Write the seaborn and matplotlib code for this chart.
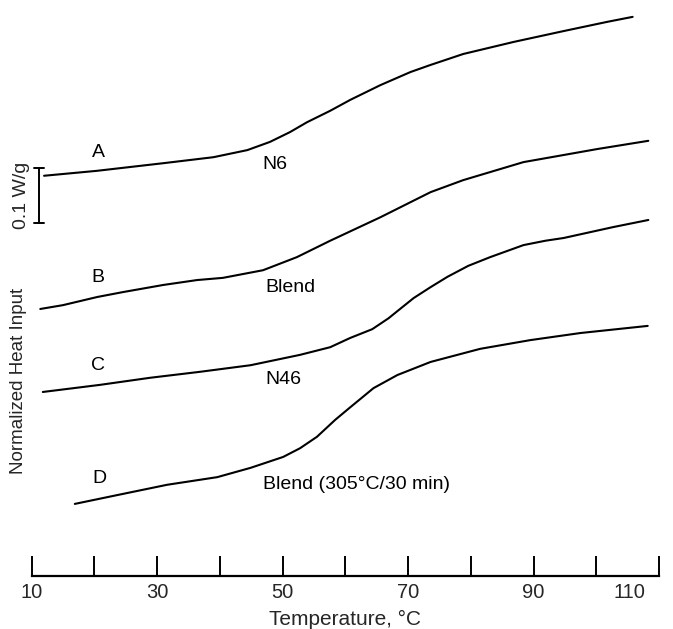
import numpy as np
import pandas as pd
import matplotlib
matplotlib.use("Agg")
import matplotlib.pyplot as plt
import matplotlib.transforms as mtransforms
import seaborn as sns

# ---- data (temperature in degC, normalized heat input in W/g, arbitrary offset) ----
temp_A = [12.0, 20.4, 31.0, 39.0, 44.4, 48.0, 51.2, 53.9, 57.6, 60.8, 65.6, 70.4, 73.6, 78.8, 86.8, 94.8, 101.8, 105.8]
heat_A = [0.777, 0.786, 0.800, 0.811, 0.824, 0.839, 0.857, 0.875, 0.896, 0.916, 0.943, 0.967, 0.980, 1.000, 1.022, 1.042, 1.059, 1.068]

temp_B = [11.4, 15.0, 20.5, 24.6, 31.0, 36.4, 40.5, 46.9, 52.3, 57.6, 65.6, 73.6, 78.8, 88.4, 94.8, 100.2, 108.3]
heat_B = [0.533, 0.540, 0.555, 0.564, 0.577, 0.586, 0.590, 0.604, 0.628, 0.658, 0.701, 0.747, 0.769, 0.802, 0.815, 0.826, 0.841]

temp_C = [11.8, 20.9, 28.9, 36.9, 44.9, 52.8, 57.6, 60.8, 64.3, 66.9, 68.3, 70.9, 73.6, 76.3, 79.6, 83.1, 88.4, 91.9, 94.8, 102.7, 108.3]
heat_C = [0.381, 0.394, 0.407, 0.418, 0.430, 0.449, 0.463, 0.480, 0.496, 0.516, 0.529, 0.553, 0.573, 0.592, 0.612, 0.628, 0.650, 0.658, 0.663, 0.683, 0.696]

temp_D = [16.9, 23.6, 31.6, 39.6, 44.9, 50.1, 52.8, 55.5, 58.4, 60.8, 64.5, 68.3, 73.6, 81.5, 89.5, 97.5, 108.2]
heat_D = [0.176, 0.192, 0.211, 0.225, 0.242, 0.262, 0.278, 0.299, 0.330, 0.353, 0.388, 0.412, 0.436, 0.460, 0.476, 0.489, 0.502]

curve_letters = ["A", "B", "C", "D"]
curve_names = ["N6", "Blend", "N46", "Blend (305°C/30 min)"]

x_ticks = [10, 20, 30, 40, 50, 60, 70, 80, 90, 100, 110]
x_tick_labels = ["10", "", "30", "", "50", "", "70", "", "90", "", "110"]

scale_bar_label = "0.1 W/g"
scale_bar_size = 0.1
x_label = "Temperature, °C"
y_label = "Normalized Heat Input"

# ---- build long-form table ----
frames = []
for letter, t, h in zip(curve_letters, [temp_A, temp_B, temp_C, temp_D],
                        [heat_A, heat_B, heat_C, heat_D]):
    frames.append(pd.DataFrame({"temp": t, "heat": h, "curve": letter}))
df = pd.concat(frames, ignore_index=True)

sns.set_style("white")
plt.rcParams["font.family"] = ["Liberation Sans", "DejaVu Sans"]

W, H = 673, 629
fig = plt.figure(figsize=(W / 100, H / 100), dpi=100)
axis_px = 576
left_px, right_px = 31.5, 659
ax = fig.add_axes([left_px / W, (H - axis_px) / H, (right_px - left_px) / W, axis_px / H])

sns.lineplot(data=df, x="temp", y="heat", hue="curve", units="curve", estimator=None,
             sort=False, palette=["black"] * 4, legend=False, linewidth=1.5, ax=ax)

ax.set_xlim(10, 110)
ax.set_ylim((600 - axis_px) / 546, 600 / 546)

for s in ["top", "left", "right"]:
    ax.spines[s].set_visible(False)
ax.spines["bottom"].set_color("black")
ax.spines["bottom"].set_linewidth(1.6)

ax.set_yticks([])
ax.set_xticks(x_ticks)
ax.set_xticklabels(x_tick_labels, fontsize=14.5)
ax.tick_params(axis="x", direction="in", length=14.5, width=1.4, color="black", pad=5,
               bottom=True)
last = ax.get_xticklabels()[-1]
last.set_horizontalalignment("right")
last.set_transform(last.get_transform() +
                   mtransforms.ScaledTranslation(-14 / 100, 0, fig.dpi_scale_trans))

ax.set_xlabel(x_label, fontsize=15)
ax.xaxis.set_label_coords(0.5, (axis_px - 619) / axis_px)
ax.xaxis.label.set_va("center")
ax.set_ylabel("")

# curve annotations
letter_pos = [(20.6, 0.819), (20.6, 0.590), (20.6, 0.430), (20.9, 0.223)]
name_pos = [(48.8, 0.797), (51.2, 0.573), (50.1, 0.403), (46.9, 0.211)]
name_ha = ["center", "center", "center", "left"]
for letter, (lx, ly) in zip(curve_letters, letter_pos):
    ax.text(lx, ly, letter, fontsize=14, ha="center", va="center", color="black")
for name, (nx, ny), ha in zip(curve_names, name_pos, name_ha):
    ax.text(nx, ny, name, fontsize=14, ha=ha, va="center", color="black")

# scale bar
bar_x = 11.2
bar_top = 0.791
ax.plot([bar_x, bar_x], [bar_top - scale_bar_size, bar_top], color="black", lw=1.4,
        clip_on=False)
for yy in [bar_top - scale_bar_size, bar_top]:
    ax.plot([bar_x - 0.8, bar_x + 0.8], [yy, yy], color="black", lw=1.4, clip_on=False)

fig.text(21 / W, 1 - 195 / H, scale_bar_label, rotation=90, fontsize=14,
         ha="center", va="center")
fig.text(19 / W, 1 - 381 / H, y_label, rotation=90, fontsize=13.5,
         ha="center", va="center")

fig.savefig("out.png", dpi=100, facecolor="white")
